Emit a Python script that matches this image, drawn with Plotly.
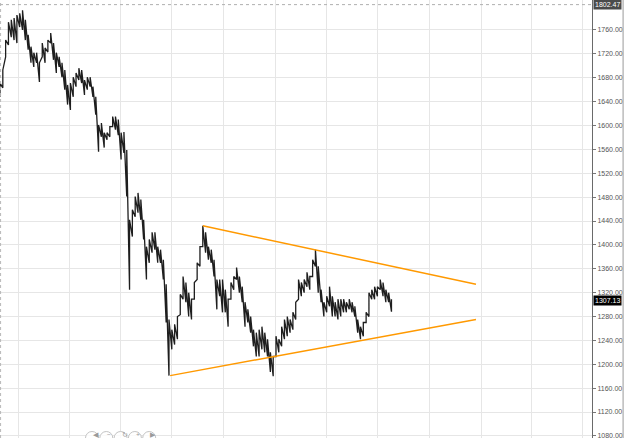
import plotly.graph_objects as go
import pandas as pd

# ---- data (5-day sampling of daily bars) ----
start_date = "2012-08-30"
step_days = 5
bar_high = [1671, 1693, 1743, 1773, 1777, 1780, 1785, 1788, 1793, 1777,
            1752, 1732, 1722, 1722, 1705, 1738, 1730, 1743, 1755, 1738,
            1722, 1715, 1705, 1693, 1668, 1671, 1681, 1688, 1696, 1693,
            1676, 1681, 1681, 1665, 1648, 1601, 1604, 1588, 1588, 1598,
            1615, 1615, 1610, 1588, 1589, 1559, 1442, 1459, 1481, 1487,
            1476, 1442, 1397, 1409, 1421, 1421, 1397, 1392, 1375, 1334,
            1275, 1258, 1267, 1280, 1317, 1347, 1337, 1320, 1309, 1337,
            1370, 1397, 1432, 1421, 1397, 1392, 1375, 1342, 1342, 1342,
            1325, 1309, 1337, 1347, 1362, 1347, 1330, 1304, 1292, 1280,
            1258, 1253, 1258, 1263, 1253, 1242, 1220, 1213, 1247, 1242,
            1263, 1275, 1280, 1275, 1287, 1304, 1342, 1337, 1342, 1354,
            1347, 1375, 1392, 1364, 1325, 1304, 1314, 1330, 1314, 1304,
            1309, 1309, 1309, 1304, 1309, 1304, 1297, 1275, 1263, 1270,
            1287, 1320, 1325, 1330, 1330, 1342, 1337, 1325, 1320, 1309]
bar_low = [1648, 1663, 1715, 1735, 1748, 1743, 1738, 1765, 1760, 1743,
           1727, 1705, 1698, 1705, 1673, 1715, 1705, 1723, 1738, 1710,
           1688, 1698, 1681, 1660, 1635, 1626, 1648, 1665, 1676, 1671,
           1651, 1660, 1665, 1648, 1618, 1556, 1581, 1563, 1576, 1581,
           1598, 1593, 1584, 1543, 1554, 1481, 1325, 1414, 1447, 1454,
           1442, 1409, 1342, 1370, 1387, 1392, 1370, 1370, 1342, 1270,
           1181, 1225, 1233, 1242, 1283, 1309, 1304, 1280, 1275, 1309,
           1342, 1364, 1397, 1387, 1375, 1370, 1347, 1292, 1314, 1287,
           1287, 1263, 1309, 1325, 1342, 1320, 1304, 1263, 1270, 1253,
           1230, 1213, 1213, 1225, 1220, 1213, 1187, 1180, 1213, 1220,
           1230, 1242, 1247, 1253, 1258, 1275, 1309, 1314, 1320, 1330,
           1325, 1347, 1364, 1320, 1304, 1280, 1287, 1297, 1280, 1280,
           1275, 1280, 1287, 1287, 1292, 1287, 1280, 1253, 1242, 1247,
           1270, 1280, 1309, 1309, 1314, 1325, 1314, 1304, 1304, 1288]
last_price = 1307.13
top_price = 1802.47

# y-axis tick labels
y_ticks = [1080, 1120, 1160, 1200, 1240, 1280, 1320, 1360, 1400, 1440,
           1480, 1520, 1560, 1600, 1640, 1680, 1720, 1760]

# triangle trend lines (date, price)
upper_line_dates = ["2013-08-25", "2014-12-23"]
upper_line_prices = [1432, 1334]
lower_line_dates = ["2013-06-28", "2014-12-23"]
lower_line_prices = [1181, 1275]

x_range = ["2012-08-30", "2015-07-17"]
y_range = [1076.5, 1810.2]

# ---- build ----
dates = pd.date_range(start=start_date, periods=len(bar_high), freq=f"{step_days}D")
zx, zy = [], []
for d, lo, hi in zip(dates, bar_low, bar_high):
    zx += [d, d]
    zy += [lo, hi]

fig = go.Figure()
fig.add_trace(go.Scatter(x=zx, y=zy, mode="lines",
                         line=dict(color="#1e1e1e", width=1.3),
                         hoverinfo="skip", showlegend=False))
fig.add_trace(go.Scatter(x=pd.to_datetime(upper_line_dates), y=upper_line_prices,
                         mode="lines", line=dict(color="#ff9900", width=1.5),
                         showlegend=False))
fig.add_trace(go.Scatter(x=pd.to_datetime(lower_line_dates), y=lower_line_prices,
                         mode="lines", line=dict(color="#ff9900", width=1.5),
                         showlegend=False))

# top dotted level line
fig.add_shape(type="line", xref="paper", x0=0, x1=1, yref="y", y0=top_price, y1=top_price,
              line=dict(color="#b0b0b0", width=1, dash="dot"))
# left dotted border
fig.add_shape(type="line", xref="paper", x0=0.001, x1=0.001, yref="paper", y0=0, y1=1,
              line=dict(color="#b8b8b8", width=1, dash="dot"))
# right outer border
fig.add_shape(type="line", xref="paper", x0=1.0525, x1=1.0525, yref="paper", y0=0, y1=1,
              line=dict(color="#9a9a9a", width=1))

# price labels on axis
for price, bg in [(top_price, "#4a4a4a"), (last_price, "#000000")]:
    fig.add_annotation(xref="paper", x=1, xanchor="left", xshift=1, yref="y", y=price,
                       text=f"{price:.2f}", showarrow=False,
                       font=dict(family="Liberation Sans, Arial", size=7, color="white"),
                       bgcolor=bg, borderpad=1)

# navigation buttons at the bottom
nav_glyphs = ["◀", "−", "↻", "+", "▶"]
for i, g in enumerate(nav_glyphs):
    cx = 92 + i * 14.3
    fig.add_shape(type="circle", xref="paper", yref="paper",
                  x0=(cx - 6.5) / 592, x1=(cx + 6.5) / 592,
                  y0=-6.5 / 438, y1=6.5 / 438,
                  line=dict(color="#c4c4c4", width=1), fillcolor="rgba(255,255,255,0.8)")
    fig.add_annotation(xref="paper", yref="paper", x=cx / 592, y=3.5 / 438,
                       text=g, showarrow=False, yanchor="middle", borderpad=0,
                       font=dict(size=7, color="#9a9a9a"))

fig.update_layout(
    width=625, height=438,
    margin=dict(l=0, r=33, t=0, b=0),
    paper_bgcolor="white", plot_bgcolor="white",
    xaxis=dict(range=pd.to_datetime(x_range), type="date",
               showticklabels=False, ticks="",
               showgrid=True, gridcolor="#e6e6e6", gridwidth=1,
               tick0="2012-10-01", dtick="M3", zeroline=False, showline=False),
    yaxis=dict(range=y_range, side="right", tickformat=".2f",
               tickmode="array", tickvals=y_ticks, ticklabeloverflow="allow",
               ticks="outside", ticklen=3, tickcolor="#777",
               showline=True, linecolor="#6a6a6a", linewidth=1,
               showgrid=True, gridcolor="#e6e6e6", gridwidth=1, zeroline=False,
               tickfont=dict(family="Liberation Sans, Arial", size=7, color="#555")),
)

fig.write_html("out.html")
